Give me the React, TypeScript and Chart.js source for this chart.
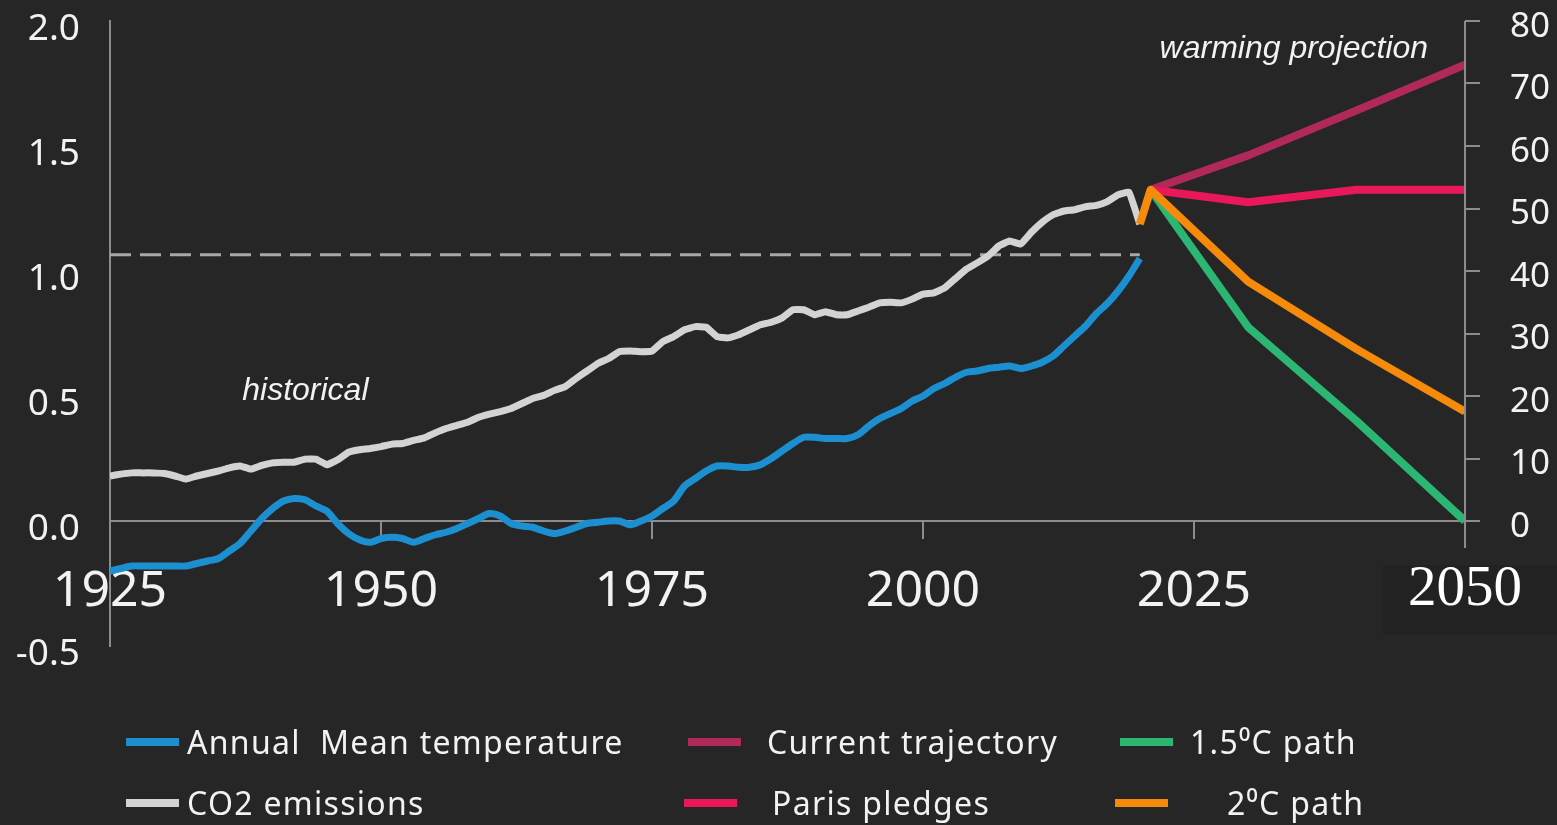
import React, { useEffect, useRef } from "react";
import { Chart, registerables } from "chart.js";

Chart.register(...registerables);

// ---------- DATA ----------
const HIST_YEARS = [
  1925, 1926, 1927, 1928, 1929, 1930, 1931, 1932, 1933, 1934,
  1935, 1936, 1937, 1938, 1939, 1940, 1941, 1942, 1943, 1944,
  1945, 1946, 1947, 1948, 1949, 1950, 1951, 1952, 1953, 1954,
  1955, 1956, 1957, 1958, 1959, 1960, 1961, 1962, 1963, 1964,
  1965, 1966, 1967, 1968, 1969, 1970, 1971, 1972, 1973, 1974,
  1975, 1976, 1977, 1978, 1979, 1980, 1981, 1982, 1983, 1984,
  1985, 1986, 1987, 1988, 1989, 1990, 1991, 1992, 1993, 1994,
  1995, 1996, 1997, 1998, 1999, 2000, 2001, 2002, 2003, 2004,
  2005, 2006, 2007, 2008, 2009, 2010, 2011, 2012, 2013, 2014,
  2015, 2016, 2017, 2018, 2019, 2020,
];

// Annual mean temperature anomaly (left axis, °C)
const TEMPERATURE = [
  -0.2, -0.19, -0.18, -0.18, -0.18, -0.18, -0.18, -0.18, -0.17, -0.16,
  -0.15, -0.12, -0.09, -0.04, 0.01, 0.05, 0.08, 0.09, 0.085, 0.06,
  0.04, -0.01, -0.05, -0.075, -0.085, -0.07, -0.065, -0.07, -0.085, -0.07,
  -0.055, -0.045, -0.03, -0.01, 0.01, 0.03, 0.02, -0.01, -0.02, -0.025,
  -0.04, -0.05, -0.04, -0.025, -0.01, -0.005, 0.0, 0.0, -0.015, 0.0,
  0.02, 0.05, 0.08, 0.14, 0.17, 0.2, 0.22, 0.22, 0.215, 0.215,
  0.225, 0.25, 0.28, 0.31, 0.335, 0.335, 0.33, 0.33, 0.33, 0.345,
  0.38, 0.41, 0.43, 0.45, 0.48, 0.5, 0.53, 0.55, 0.575, 0.595,
  0.6, 0.61, 0.615, 0.62, 0.61, 0.62, 0.635, 0.66, 0.7, 0.74,
  0.78, 0.83, 0.87, 0.92, 0.98, 1.05,
];

// CO2 emissions (right axis)
const CO2_EMISSIONS = [
  7.2, 7.5, 7.7, 7.7, 7.7, 7.6, 7.2, 6.7, 7.2, 7.6,
  8.0, 8.5, 8.8, 8.3, 8.9, 9.3, 9.4, 9.4, 9.9, 9.9,
  9.0, 9.8, 11.0, 11.4, 11.6, 11.9, 12.3, 12.4, 12.9, 13.3,
  14.1, 14.8, 15.3, 15.8, 16.6, 17.1, 17.5, 18.0, 18.8, 19.6,
  20.1, 20.9, 21.5, 22.8, 24.0, 25.2, 26.0, 27.1, 27.2, 27.1,
  27.2, 28.7, 29.5, 30.6, 31.1, 31.0, 29.5, 29.3, 29.8, 30.6,
  31.4, 31.8, 32.5, 33.8, 33.8, 33.0, 33.5, 33.0, 33.0, 33.6,
  34.2, 34.9, 35.0, 34.9, 35.5, 36.3, 36.5, 37.3, 38.8, 40.3,
  41.3, 42.4, 44.0, 44.8, 44.3, 46.2, 47.8, 49.0, 49.6, 49.8,
  50.3, 50.5, 51.1, 52.2, 52.6, 47.5,
];

// Projections (right axis)
const PROJ_YEARS = [2021, 2030, 2040, 2050];
const CURRENT_TRAJECTORY = [53, 58.5, 65.7, 73];
const PARIS_PLEDGES = [53, 51, 53, 53];
const PATH_15C = [53, 31, 16, 0];
const PATH_2C_YEARS = [2020, 2021, 2030, 2040, 2050];
const PATH_2C = [47.5, 53, 38.3, 27.5, 17.5];

// Reference (dashed) level on the left axis
const THRESHOLD_YEARS = [1925, 2020];
const THRESHOLD_VALUE = [1.065, 1.065];

// Axis ranges / ticks
const X_MIN = 1925;
const X_MAX = 2050;
const X_STEP = 25;
const LEFT_MIN = -0.5;
const LEFT_MAX = 2.0;
const RIGHT_MIN = -20;
const RIGHT_MAX = 80;

// Text annotations (data coordinates on the left axis)
const NOTE_TEXT = ["historical", "warming projection"];
const NOTE_YEAR = [1937.2, 2046.6];
const NOTE_VALUE = [0.484, 1.852];
const NOTE_ALIGN = ["left", "right"];

// Legend
const LEGEND_LABELS = [
  "Annual  Mean temperature",
  "Current trajectory",
  "1.5\u2070C path",
  "CO2 emissions",
  "Paris pledges",
  "2\u2070C path",
];

const COLORS = {
  bg: "#262626",
  temp: "#1b8fd0",
  co2: "#d3d3d3",
  current: "#b1295a",
  paris: "#e8185a",
  green: "#2bb673",
  orange: "#f58a0b",
  axis: "#8c8c8c",
  dash: "#a8a8a8",
  text: "#f2f2f2",
};

const LEGEND_COLORS = [
  COLORS.temp,
  COLORS.current,
  COLORS.green,
  COLORS.co2,
  COLORS.paris,
  COLORS.orange,
];

// legend layout (px)
const LEGEND_SWATCH_X = [126, 688, 1120, 126, 684, 1115];
const LEGEND_TEXT_X = [187, 767, 1190, 187, 772, 1227];
const LEGEND_ROW_Y = [742, 803];

const zip = (xs: number[], ys: number[]) => xs.map((x, i) => ({ x, y: ys[i] }));

const decorPlugin = {
  id: "decor",
  beforeDraw(chart: any) {
    const { ctx, width, height } = chart;
    ctx.save();
    ctx.fillStyle = COLORS.bg;
    ctx.fillRect(0, 0, width, height);
    ctx.fillStyle = "#222222";
    ctx.fillRect(1383, 565, width - 1383, 70);
    ctx.restore();
  },
  afterDraw(chart: any) {
    const { ctx, scales } = chart;
    const x = scales.x;
    const y = scales.y;
    const y1 = scales.y1;
    const zeroY = y.getPixelForValue(0);
    ctx.save();
    // right axis line
    ctx.strokeStyle = COLORS.axis;
    ctx.lineWidth = 2;
    ctx.beginPath();
    ctx.moveTo(y1.left, y1.getPixelForValue(RIGHT_MAX));
    ctx.lineTo(y1.left, zeroY + 27);
    ctx.stroke();
    // last x tick label, in a serif face as in the original
    ctx.fillStyle = "#ffffff";
    ctx.font = "57px 'Liberation Serif', 'Times New Roman', 'DejaVu Serif', serif";
    ctx.textAlign = "center";
    ctx.textBaseline = "alphabetic";
    ctx.fillText(String(X_MAX), x.getPixelForValue(X_MAX), zeroY + 84);
    // annotations
    ctx.fillStyle = COLORS.text;
    ctx.font = "italic 32px 'Liberation Sans', Arial, sans-serif";
    NOTE_TEXT.forEach((t, i) => {
      ctx.textAlign = NOTE_ALIGN[i] as CanvasTextAlign;
      ctx.fillText(t, x.getPixelForValue(NOTE_YEAR[i]), y.getPixelForValue(NOTE_VALUE[i]));
    });
    ctx.restore();
  },
};

export default function App() {
  const ref = useRef<HTMLCanvasElement | null>(null);

  useEffect(() => {
    document.body.style.margin = "0";
    document.body.style.background = COLORS.bg;
    const canvas = ref.current;
    if (!canvas) return;

    const lineBase = {
      pointRadius: 0,
      pointHoverRadius: 0,
      fill: false,
      borderJoinStyle: "round" as const,
      borderCapStyle: "butt" as const,
    };

    const chart = new Chart(canvas, {
      type: "line",
      data: {
        datasets: [
          {
            ...lineBase,
            label: "2\u2070C path",
            data: zip(PATH_2C_YEARS, PATH_2C),
            borderColor: COLORS.orange,
            borderWidth: 8,
            yAxisID: "y1",
            order: 1,
          },
          {
            ...lineBase,
            label: "1.5\u2070C path",
            data: zip(PROJ_YEARS, PATH_15C),
            borderColor: COLORS.green,
            borderWidth: 8,
            yAxisID: "y1",
            order: 2,
          },
          {
            ...lineBase,
            label: "Paris pledges",
            data: zip(PROJ_YEARS, PARIS_PLEDGES),
            borderColor: COLORS.paris,
            borderWidth: 8,
            yAxisID: "y1",
            order: 3,
          },
          {
            ...lineBase,
            label: "Current trajectory",
            data: zip(PROJ_YEARS, CURRENT_TRAJECTORY),
            borderColor: COLORS.current,
            borderWidth: 8,
            yAxisID: "y1",
            order: 4,
          },
          {
            ...lineBase,
            label: "CO2 emissions",
            data: zip(HIST_YEARS, CO2_EMISSIONS),
            borderColor: COLORS.co2,
            borderWidth: 7,
            tension: 0.1,
            yAxisID: "y1",
            order: 5,
          },
          {
            ...lineBase,
            label: "Annual Mean temperature",
            data: zip(HIST_YEARS, TEMPERATURE),
            borderColor: COLORS.temp,
            borderWidth: 7,
            tension: 0.25,
            yAxisID: "y",
            order: 6,
          },
          {
            ...lineBase,
            label: "threshold",
            data: zip(THRESHOLD_YEARS, THRESHOLD_VALUE),
            borderColor: COLORS.dash,
            borderWidth: 3,
            borderDash: [21, 9],
            yAxisID: "y",
            order: 7,
          },
        ],
      },
      options: {
        responsive: false,
        maintainAspectRatio: false,
        devicePixelRatio: 1,
        animation: false,
        events: [],
        layout: { padding: { top: 21, bottom: 179, left: 0, right: 0 } },
        plugins: {
          legend: { display: false },
          tooltip: { enabled: false },
          title: { display: false },
        },
        scales: {
          x: {
            type: "linear",
            position: { y: 0 } as any,
            min: X_MIN,
            max: X_MAX,
            afterFit: (s: any) => {
              s.paddingLeft = 0;
              s.paddingRight = 0;
            },
            ticks: {
              stepSize: X_STEP,
              padding: 24,
              maxRotation: 0,
              autoSkip: false,
              color: COLORS.text,
              font: { family: "'Noto Sans', sans-serif", size: 50 },
              callback: (v: any) => (Number(v) === X_MAX ? "" : String(v)),
            },
            grid: {
              display: true,
              drawOnChartArea: false,
              drawTicks: true,
              tickLength: 17,
              color: COLORS.axis,
              lineWidth: 2,
            },
            border: { display: true, color: COLORS.axis, width: 2 },
          },
          y: {
            type: "linear",
            position: "left",
            min: LEFT_MIN,
            max: LEFT_MAX,
            afterFit: (s: any) => {
              s.width = 110;
              s.paddingTop = 0;
              s.paddingBottom = 0;
            },
            ticks: {
              stepSize: 0.5,
              padding: 30,
              labelOffset: 8,
              color: COLORS.text,
              font: { family: "'Noto Sans', sans-serif", size: 37 },
              callback: (v: any) => Number(v).toFixed(1),
            },
            grid: { display: false, drawTicks: false },
            border: { display: true, color: COLORS.axis, width: 2 },
          },
          y1: {
            type: "linear",
            position: "right",
            min: RIGHT_MIN,
            max: RIGHT_MAX,
            afterBuildTicks: (s: any) => {
              s.ticks = s.ticks.filter((t: any) => t.value >= 0);
            },
            afterFit: (s: any) => {
              s.width = 92;
              s.paddingTop = 0;
              s.paddingBottom = 0;
            },
            ticks: {
              stepSize: 10,
              padding: 30,
              labelOffset: 6,
              color: COLORS.text,
              font: { family: "'Noto Sans', sans-serif", size: 35 },
              callback: (v: any) => String(v),
            },
            grid: {
              display: true,
              drawOnChartArea: false,
              drawTicks: true,
              tickLength: 15,
              color: COLORS.axis,
              lineWidth: 2,
            },
            border: { display: false },
          },
        },
      },
      plugins: [decorPlugin],
    });

    return () => chart.destroy();
  }, []);

  return (
    <div style={{ position: "relative", width: 1557, height: 825, background: COLORS.bg, overflow: "hidden" }}>
      <canvas ref={ref} width={1557} height={825} style={{ display: "block" }} />
      {LEGEND_LABELS.map((label, i) => {
        const row = i < 3 ? 0 : 1;
        const cy = LEGEND_ROW_Y[row];
        return (
          <React.Fragment key={label}>
            <div
              style={{
                position: "absolute",
                left: LEGEND_SWATCH_X[i],
                top: cy - 4,
                width: 53,
                height: 8,
                background: LEGEND_COLORS[i],
              }}
            />
            <div
              style={{
                position: "absolute",
                left: LEGEND_TEXT_X[i],
                top: cy - 20,
                height: 40,
                lineHeight: "40px",
                fontFamily: "'Noto Sans', sans-serif",
                fontSize: 32,
                letterSpacing: "1.3px",
                color: COLORS.text,
                whiteSpace: "pre",
              }}
            >
              {label}
            </div>
          </React.Fragment>
        );
      })}
    </div>
  );
}
